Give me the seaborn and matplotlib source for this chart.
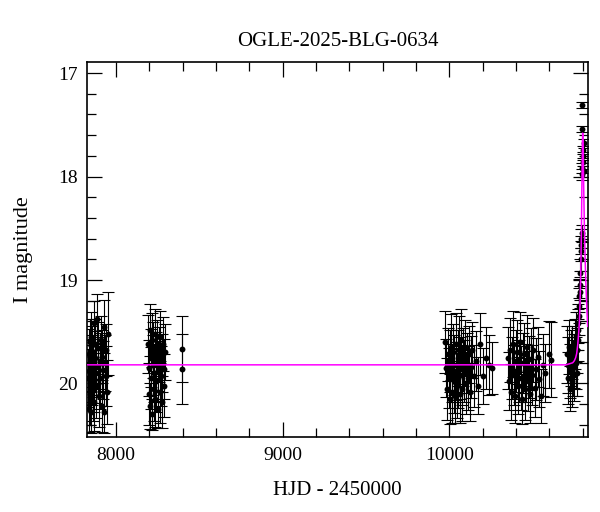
import numpy as np
import pandas as pd
import seaborn as sns
import matplotlib.pyplot as plt
from matplotlib.ticker import MultipleLocator

# OGLE I-band photometry: HJD-2450000, mag, error
hjd_2017 = [7833, 7836, 7838, 7841, 7843, 7846, 7848, 7850, 7853, 7855, 7858, 7860,
            7863, 7866, 7868, 7871, 7874, 7877, 7880, 7883, 7886, 7890, 7894, 7898,
            7902, 7906, 7910, 7914, 7918, 7922, 7926, 7930, 7934, 7938, 7942, 7946, 7950]
mag_2017 = [19.95, 20.25, 19.72, 19.88, 20.10, 19.60, 19.80, 20.28, 19.55, 19.92, 19.70, 20.05,
            19.85, 19.42, 19.98, 20.18, 19.75, 19.62, 19.90, 20.02, 19.38, 19.83, 19.66, 20.12,
            19.78, 19.95, 19.58, 20.22, 19.74, 19.87, 19.45, 20.28, 19.80, 19.68, 19.93, 20.08, 19.52]
err_2017 = [0.28, 0.22, 0.25, 0.30, 0.30, 0.22, 0.27, 0.20, 0.24, 0.29, 0.26, 0.31,
            0.28, 0.22, 0.30, 0.28, 0.26, 0.24, 0.29, 0.31, 0.24, 0.28, 0.25, 0.30,
            0.27, 0.30, 0.23, 0.25, 0.26, 0.28, 0.26, 0.20, 0.27, 0.25, 0.29, 0.31, 0.40]

hjd_2018 = [8194, 8197, 8200, 8203, 8206, 8209, 8212, 8215, 8218, 8221, 8224, 8227,
            8230, 8233, 8236, 8239, 8242, 8246, 8250, 8254, 8258, 8262, 8266, 8270,
            8274, 8278, 8282, 8286, 8290, 8294, 8396, 8396]
mag_2018 = [19.62, 20.10, 19.85, 19.48, 20.22, 19.75, 19.95, 19.58, 20.30, 19.82, 19.68, 20.05,
            19.90, 19.52, 20.15, 19.78, 19.98, 19.65, 20.25, 19.88, 19.72, 20.08, 19.55, 19.93,
            20.18, 19.80, 19.62, 20.02, 19.86, 19.70, 19.67, 19.86]
err_2018 = [0.28, 0.30, 0.27, 0.25, 0.22, 0.28, 0.30, 0.26, 0.15, 0.29, 0.27, 0.31,
            0.28, 0.24, 0.27, 0.28, 0.30, 0.26, 0.18, 0.29, 0.27, 0.30, 0.25, 0.29,
            0.25, 0.28, 0.26, 0.30, 0.29, 0.27, 0.32, 0.34]

hjd_2023 = [9974, 9980, 9986, 9991, 9996, 10001, 10006, 10010, 10014, 10018, 10022, 10026,
            10030, 10034, 10038, 10042, 10046, 10050, 10054, 10058, 10062, 10066, 10070, 10074,
            10078, 10083, 10088, 10093, 10098, 10104, 10110, 10116, 10123, 10130, 10138, 10148,
            10160, 10172, 10186, 10200, 10218, 10236, 10254]
mag_2023 = [19.60, 19.85, 20.05, 19.72, 19.95, 20.15, 19.78, 19.65, 19.90, 20.08, 19.70, 19.98,
            19.82, 20.12, 19.62, 19.88, 20.02, 19.75, 19.95, 19.68, 20.10, 19.85, 19.58, 19.92,
            20.05, 19.74, 19.88, 19.66, 20.00, 19.80, 19.95, 19.72, 20.08, 19.84, 19.68, 19.93,
            19.78, 20.02, 19.62, 19.93, 19.75, 19.82, 19.85]
err_2023 = [0.30, 0.28, 0.30, 0.26, 0.29, 0.24, 0.30, 0.32, 0.28, 0.30, 0.27, 0.31,
            0.29, 0.26, 0.30, 0.28, 0.31, 0.27, 0.29, 0.33, 0.28, 0.30, 0.30, 0.29,
            0.31, 0.28, 0.30, 0.27, 0.30, 0.29, 0.31, 0.28, 0.28, 0.30, 0.27, 0.30,
            0.29, 0.28, 0.30, 0.27, 0.30, 0.29, 0.25]

hjd_2024 = [10352, 10358, 10364, 10370, 10376, 10382, 10388, 10394, 10400, 10406, 10412,
            10418, 10424, 10430, 10436, 10442, 10448, 10454, 10460, 10466, 10472, 10478,
            10484, 10490, 10497, 10504, 10512, 10520, 10530, 10540, 10550, 10562, 10574,
            10600, 10612]
mag_2024 = [19.75, 19.98, 19.68, 20.08, 19.85, 19.62, 19.92, 20.12, 19.78, 19.70, 20.02,
            19.88, 19.60, 19.95, 20.15, 19.80, 19.72, 20.05, 19.90, 19.65, 19.98, 19.84,
            20.10, 19.76, 19.92, 19.68, 20.04, 19.86, 19.74, 19.96, 20.12, 19.82, 19.90,
            19.72, 19.77]
err_2024 = [0.30, 0.28, 0.31, 0.27, 0.30, 0.32, 0.29, 0.26, 0.30, 0.31, 0.28,
            0.30, 0.29, 0.31, 0.24, 0.29, 0.30, 0.30, 0.28, 0.31, 0.29, 0.30,
            0.28, 0.30, 0.29, 0.31, 0.28, 0.30, 0.29, 0.27, 0.26, 0.30, 0.28,
            0.32, 0.36]

hjd_2025 = [10706, 10710, 10714, 10718, 10722, 10726, 10730, 10734, 10738, 10742, 10746,
            10750, 10754, 10757, 10760, 10763, 10766, 10769, 10772, 10774, 10776, 10778,
            10780, 10782, 10784, 10785, 10787, 10789, 10790, 10792, 10794, 10796, 10797,
            10798, 10798, 10800, 10801, 10803, 10805, 10807]
mag_2025 = [19.72, 19.95, 19.82, 19.65, 20.05, 19.88, 19.75, 19.98, 19.70, 19.85, 19.92,
            19.78, 19.62, 19.80, 19.55, 19.90, 19.68, 19.48, 19.58, 19.42, 19.35, 19.25,
            19.15, 19.12, 19.05, 18.93, 18.80, 18.72, 18.66, 18.60, 18.55, 17.98, 17.92,
            17.31, 17.54, 17.86, 17.80, 17.74, 17.68, 17.95]
err_2025 = [0.28, 0.25, 0.27, 0.26, 0.22, 0.26, 0.27, 0.25, 0.26, 0.27, 0.25,
            0.26, 0.24, 0.25, 0.24, 0.22, 0.22, 0.20, 0.20, 0.19, 0.18, 0.17,
            0.16, 0.15, 0.14, 0.13, 0.11, 0.10, 0.09, 0.09, 0.08, 0.05, 0.05,
            0.03, 0.03, 0.04, 0.04, 0.04, 0.04, 0.05]

# model curve (magenta)
model_hjd = [7828, 10700, 10740, 10750, 10758, 10764, 10770, 10776, 10780, 10784, 10788,
             10792, 10795, 10798, 10800, 10803, 10806, 10810, 10815, 10820, 10825, 10830]
model_mag = [19.82, 19.82, 19.80, 19.78, 19.75, 19.71, 19.63, 19.51, 19.41, 19.23, 18.96,
             18.56, 18.12, 17.70, 17.58, 17.75, 18.10, 18.48, 18.82, 19.08, 19.28, 19.45]

df = pd.DataFrame({
    'hjd': hjd_2017 + hjd_2018 + hjd_2023 + hjd_2024 + hjd_2025,
    'mag': mag_2017 + mag_2018 + mag_2023 + mag_2024 + mag_2025,
    'err': err_2017 + err_2018 + err_2023 + err_2024 + err_2025,
})

sns.set_style("ticks")
plt.rcParams['font.family'] = ['Liberation Serif', 'DejaVu Serif']
plt.rcParams['text.color'] = 'black'
plt.rcParams['axes.labelcolor'] = 'black'
plt.rcParams['xtick.color'] = 'black'
plt.rcParams['ytick.color'] = 'black'

fig = plt.figure(figsize=(6, 5.12), dpi=100)
ax = fig.add_axes([0.1455, 0.146, 0.834, 0.7324])

ax.errorbar(df['hjd'], df['mag'], yerr=df['err'], fmt='none', ecolor='black',
            elinewidth=0.8, capsize=4.5, capthick=0.8, zorder=2)
sns.scatterplot(data=df, x='hjd', y='mag', color='black', s=18, linewidth=0,
                ax=ax, zorder=3, legend=False)
sns.lineplot(x=model_hjd, y=model_mag, color='#ff00ff', lw=1.1, estimator=None,
             sort=False, ax=ax, zorder=4)

ax.set_xlim(7828, 10830)
ax.set_ylim(20.52, 16.895)

ax.xaxis.set_major_locator(MultipleLocator(1000))
ax.xaxis.set_minor_locator(MultipleLocator(200))
ax.yaxis.set_major_locator(MultipleLocator(1))
ax.yaxis.set_minor_locator(MultipleLocator(0.2))
ax.tick_params(which='both', direction='in', top=True, right=True, width=0.9,
               color='black', labelcolor='black', labelsize=14, pad=7)
ax.tick_params(which='major', length=11)
ax.tick_params(which='minor', length=6.5)
for sp in ax.spines.values():
    sp.set_linewidth(1.2)
    sp.set_color('black')

ax.set_title('OGLE-2025-BLG-0634', fontsize=15, pad=12, color='black')
ax.set_xlabel('HJD - 2450000', fontsize=15, labelpad=12, color='black')
ax.set_ylabel('I magnitude', fontsize=16, labelpad=18, color='black')

fig.savefig('out.png', dpi=100)
